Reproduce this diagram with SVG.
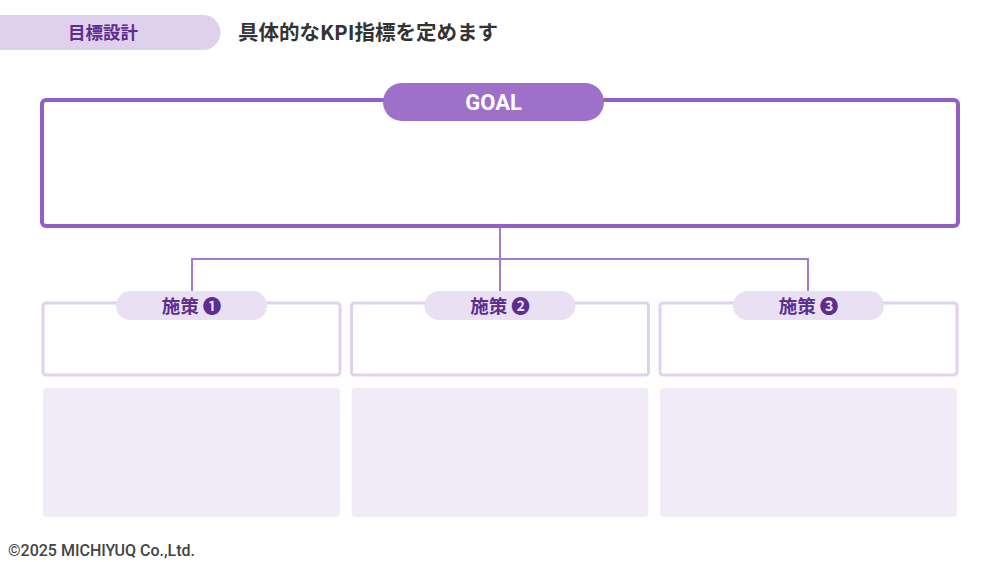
<svg xmlns="http://www.w3.org/2000/svg" width="1000" height="562" viewBox="0 0 1000 562">
<style>
.jp{font-family:"Noto Sans CJK JP","Noto Sans",sans-serif;font-weight:700}
.sub{fill:#fff;stroke:#e0d1ef;stroke-width:3}
.pill{fill:#e9e0f4}
.pilltxt{fill:#5b2e8e;font-size:18.5px}
.note{fill:#f1ebf8}
.conn{fill:none;stroke:#a27bd0;stroke-width:2}
</style>
<rect width="1000" height="562" fill="#fff"/>
<g id="title">
<path d="M0 15 H203 A17.5 17.5 0 0 1 203 50 H0 Z" fill="#dfd0ed"/>
<text class="jp" x="103" y="38.5" text-anchor="middle" font-size="17.5" fill="#5b2e8e">目標設計</text>
<text class="jp" x="238" y="39.5" font-size="20.5" fill="#333">具体的なKPI指標を定めます</text>
</g>
<g id="connectors">
<path class="conn" d="M500 226 V259 M192 292 V259 H808 V292 M500 259 V292"/>
</g>
<g id="goal">
<rect x="42" y="100" width="916" height="126" rx="4" fill="#fff" stroke="#915fc5" stroke-width="4"/>
<rect x="383" y="83" width="221" height="38" rx="19" fill="#9d70c9"/>
<text x="493.5" y="109.5" text-anchor="middle" font-family="Roboto,'Noto Sans',sans-serif" font-weight="700" font-size="22" fill="#fff">GOAL</text>
</g>
<g id="measure1">
<rect class="sub" x="43" y="303" width="297" height="72" rx="3"/>
<rect class="pill" x="116" y="291" width="151" height="29" rx="14.5"/>
<text class="jp pilltxt" x="191.5" y="312.5" text-anchor="middle">施策 ❶</text>
<rect class="note" x="43" y="388" width="297" height="129" rx="4"/>
</g>
<g id="measure2">
<rect class="sub" x="351.5" y="303" width="297" height="72" rx="3"/>
<rect class="pill" x="424.5" y="291" width="151" height="29" rx="14.5"/>
<text class="jp pilltxt" x="500" y="312.5" text-anchor="middle">施策 ❷</text>
<rect class="note" x="351.5" y="388" width="297" height="129" rx="4"/>
</g>
<g id="measure3">
<rect class="sub" x="660" y="303" width="297" height="72" rx="3"/>
<rect class="pill" x="733" y="291" width="151" height="29" rx="14.5"/>
<text class="jp pilltxt" x="808.5" y="312.5" text-anchor="middle">施策 ❸</text>
<rect class="note" x="660" y="388" width="297" height="129" rx="4"/>
</g>
<g id="footer">
<text x="8" y="556" font-family="Roboto,'Noto Sans',sans-serif" font-weight="500" font-size="16" fill="#444">©2025 MICHIYUQ Co.,Ltd.</text>
</g>
</svg>
